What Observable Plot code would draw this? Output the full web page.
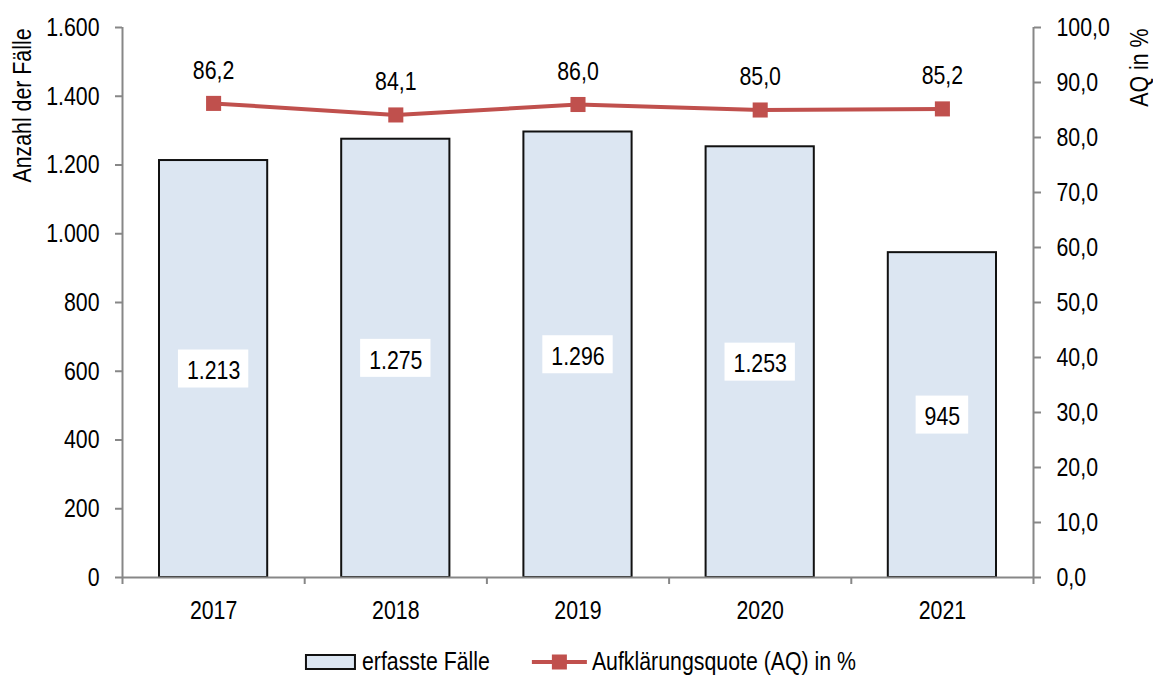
<!DOCTYPE html>
<html>
<head>
<meta charset="utf-8">
<script src="https://cdn.jsdelivr.net/npm/d3@7"></script>
<script src="https://cdn.jsdelivr.net/npm/@observablehq/plot@0.6"></script>
<style>
  body { margin: 0; background: #fff; font-family: "Liberation Sans", Arial, sans-serif; }
  #chart svg, #legend svg { display: block; }
</style>
</head>
<body>
<div id="chart"></div>
<div id="legend"></div>
<script>
const years = [2017, 2018, 2019, 2020, 2021];
const cases = [1213, 1275, 1296, 1253, 945];
const rates = [86.2, 84.1, 86.0, 85.0, 85.2];
const leftTicks = [0, 200, 400, 600, 800, 1000, 1200, 1400, 1600];
const rightTicks = [0, 10, 20, 30, 40, 50, 60, 70, 80, 90, 100];
const seriesNames = ["erfasste Fälle", "Aufklärungsquote (AQ) in %"];
const yTitleLeft = "Anzahl der Fälle";
const yTitleRight = "AQ in %";

const SCALE = 16; // 100 % on the right axis = 1.600 on the left axis
const data = years.map((year, i) => ({year, cases: cases[i], rate: rates[i]}));
const xDomain = [years[0] - 0.5, years[years.length - 1] + 0.5];
const boundaries = d3.range(xDomain[0], xDomain[1] + 0.01, 1);

const de = d3.formatLocale({decimal: ",", thousands: ".", grouping: [3], currency: ["", " €"]});
const fmtInt = de.format(",d");
const fmtPct = de.format(".1f");

const FS = 26;          // font size
const NARROW = 0.82;    // horizontal squeeze (narrow sans look)
const GRAY = "#878787";
const RED = "#c0504d";
const PX_PER_YEAR = (1153 - 122 - 120) / 5;
const PX_PER_UNIT = (635 - 27 - 58) / 1600;
const textW = s => [...s].reduce((w, c) => w + (/[0-9]/.test(c) ? 0.556 : 0.278) * FS * NARROW, 0);
const boxHalfW = d => (textW(fmtInt(d.cases)) + 17) / 2 / PX_PER_YEAR;
const boxHalfH = 19 / PX_PER_UNIT;

const chart = Plot.plot({
  width: 1153,
  height: 635,
  marginLeft: 122,
  marginRight: 120,
  marginTop: 27,
  marginBottom: 58,
  style: {fontSize: FS + "px", fontFamily: "'Liberation Sans', Arial, sans-serif", color: "#000", background: "#fff"},
  x: {type: "linear", domain: xDomain},
  y: {domain: [0, 1600], label: null},
  marks: [
    Plot.rectY(data, {x1: d => d.year - 0.5, x2: d => d.year + 0.5, y: "cases", insetLeft: 37, insetRight: 37,
      fill: "#dce6f2", stroke: "#111", strokeWidth: 2}),
    Plot.rect(data, {x1: d => d.year - boxHalfW(d), x2: d => d.year + boxHalfW(d),
      y1: d => d.cases / 2 - boxHalfH, y2: d => d.cases / 2 + boxHalfH, fill: "white"}),
    Plot.text(data, {x: "year", y: d => d.cases / 2, text: d => fmtInt(d.cases), dy: 2}),
    Plot.ruleY([0], {stroke: GRAY, strokeWidth: 2}),
    Plot.ruleX(xDomain, {stroke: GRAY, strokeWidth: 2}),
    Plot.axisX({ticks: boundaries, tickFormat: () => "", tickSize: 7, stroke: GRAY, strokeWidth: 2, label: null}),
    Plot.axisX({ticks: years, tickFormat: d => String(d), tickSize: 0, tickPadding: 23, label: null, fill: "#000"}),
    Plot.axisY({anchor: "left", ticks: leftTicks, tickFormat: d => fmtInt(d), tickSize: 7, tickPadding: 16,
      stroke: GRAY, strokeWidth: 2, fill: "#000", label: null}),
    Plot.axisY({anchor: "right", ticks: rightTicks.map(v => v * SCALE), tickFormat: d => fmtPct(d / SCALE),
      tickSize: 7, tickPadding: 16, stroke: GRAY, strokeWidth: 2, fill: "#000", label: null}),
    Plot.line(data, {x: "year", y: d => d.rate * SCALE, stroke: RED, strokeWidth: 4}),
    Plot.dot(data, {x: "year", y: d => d.rate * SCALE, symbol: "square", r: 8.5, fill: RED, stroke: "none"}),
    Plot.text(data, {x: "year", y: d => d.rate * SCALE, text: d => fmtPct(d.rate), dy: -33}),
    Plot.text([yTitleLeft], {frameAnchor: "top-left", rotate: -90, textAnchor: "end", lineAnchor: "middle",
      dx: -100, dy: 1}),
    Plot.text([yTitleRight], {frameAnchor: "top-right", rotate: -90, textAnchor: "end", lineAnchor: "middle",
      dx: 106, dy: 1})
  ]
});
document.getElementById("chart").appendChild(chart);

// narrow sans look: squeeze every text horizontally about its own anchor
chart.querySelectorAll("text").forEach(t => {
  const tr = t.getAttribute("transform") || "";
  t.setAttribute("transform", `${tr} scale(${NARROW},1)`);
});

// legend below the chart
const lsvg = d3.select("#legend").append("svg").attr("width", 1153).attr("height", 40)
  .style("font-family", "'Liberation Sans', Arial, sans-serif").style("font-size", FS + "px");
const cy = 27;
const g = lsvg.append("g");
g.append("rect").attr("x", 1).attr("y", cy - 7).attr("width", 49).attr("height", 14)
  .attr("fill", "#dce6f2").attr("stroke", "#111").attr("stroke-width", 2);
const t1 = g.append("text").attr("dy", "0.32em").text(seriesNames[0]);
t1.attr("transform", `translate(57,${cy}) scale(${NARROW},1)`);
const w1 = t1.node().getComputedTextLength() * NARROW;
const lx = 57 + w1 + 42;
g.append("line").attr("x1", lx).attr("x2", lx + 55).attr("y1", cy).attr("y2", cy)
  .attr("stroke", RED).attr("stroke-width", 4);
g.append("rect").attr("x", lx + 20).attr("y", cy - 7.5).attr("width", 15).attr("height", 15).attr("fill", RED);
const t2 = g.append("text").attr("dy", "0.32em").text(seriesNames[1]);
t2.attr("transform", `translate(${lx + 60},${cy}) scale(${NARROW},1)`);
const w2 = t2.node().getComputedTextLength() * NARROW;
const total = lx + 60 + w2;
g.attr("transform", `translate(${(1153 - total) / 2 + 4},0)`);
</script>
</body>
</html>
